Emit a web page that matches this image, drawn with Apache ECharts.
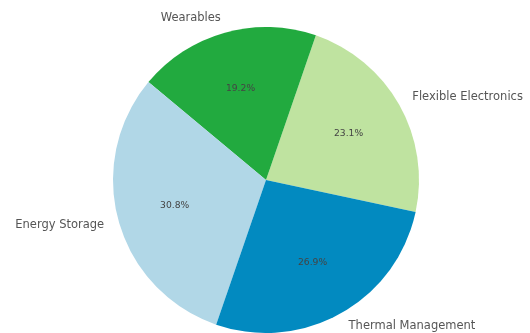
<!DOCTYPE html>
<html>
<head>
<meta charset="utf-8">
<script src="https://cdn.jsdelivr.net/npm/echarts@6/dist/echarts.min.js"></script>
<style>
  html, body { margin: 0; padding: 0; background: #ffffff; }
  #chart { width: 530px; height: 333px; }
</style>
</head>
<body>
<div id="chart"></div>
<script>
// Application areas and their shares (counter-clockwise from the start angle)
const categories = ['Flexible Electronics', 'Wearables', 'Energy Storage', 'Thermal Management'];
const values = [6, 5, 8, 7];
const colors = ['#bfe3a0', '#22aa3f', '#b1d7e7', '#028ac0'];

const total = values.reduce((a, b) => a + b, 0);
const pieData = categories.map((name, i) => ({
  name: name,
  value: values[i],
  itemStyle: { color: colors[i] }
}));

const center = [266, 180];
const R = 153;
const FONT = 'DejaVu Sans';

const chart = echarts.init(document.getElementById('chart'), null, { renderer: 'canvas' });
chart.setOption({
  backgroundColor: '#ffffff',
  animation: false,
  series: [
    {
      // visible wedges, category names placed just outside the rim
      type: 'pie',
      center: center,
      radius: [0, R],
      startAngle: -12.1,
      clockwise: false,
      avoidLabelOverlap: false,
      silent: true,
      data: pieData,
      label: {
        show: true,
        position: 'outside',
        formatter: '{b}',
        fontFamily: FONT,
        fontSize: 11.5,
        color: '#555555',
        distanceToLabelLine: 0
      },
      labelLine: { show: false, length: 15, length2: 0 },
      emphasis: { disabled: true }
    },
    {
      // percentage labels at 0.6 of the radius
      type: 'pie',
      center: center,
      radius: [R * 0.2, R],
      startAngle: -12.1,
      clockwise: false,
      avoidLabelOverlap: false,
      silent: true,
      data: pieData.map(d => ({ name: d.name, value: d.value, itemStyle: { color: 'rgba(0,0,0,0)' } })),
      label: {
        show: true,
        position: 'inside',
        formatter: p => (p.value / total * 100).toFixed(1) + '%',
        fontFamily: FONT,
        fontSize: 9.2,
        color: '#444444'
      },
      labelLine: { show: false },
      emphasis: { disabled: true }
    }
  ]
});
</script>
</body>
</html>
